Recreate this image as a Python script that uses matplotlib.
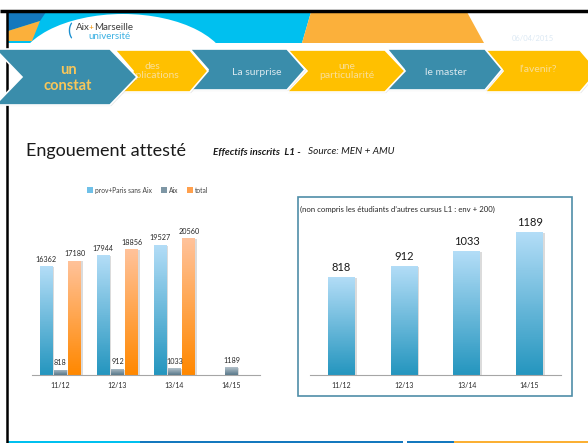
import numpy as np
import matplotlib
matplotlib.use("Agg")
import matplotlib.pyplot as plt
from matplotlib.patches import Polygon, Rectangle, Ellipse, Patch
from matplotlib.colors import LinearSegmentedColormap
import matplotlib.patheffects as pe

plt.rcParams['font.family'] = ['Lato', 'DejaVu Sans']

# Données
categories = ['11/12', '12/13', '13/14', '14/15']
prov_paris = [16362, 17944, 19527]
aix = [818, 912, 1033, 1189]
total = [17180, 18856, 20560]
legend_labels = ['prov+Paris sans Aix', 'Aix', 'total']

steps = ['un\nconstat', 'des\nexplications', 'La surprise', 'une\nparticularité', 'le master', "l’avenir?"]

W, H = 588, 443
fig = plt.figure(figsize=(W / 100, H / 100), dpi=100)

# fond de la diapo (coordonnées en pixels)
bg = fig.add_axes([0, 0, 1, 1])
bg.set_xlim(0, W)
bg.set_ylim(H, 0)
bg.axis('off')

TEAL = '#3a8dab'
YELLOW = '#ffc000'

# bandeau du haut
bg.add_patch(Polygon([(8, 12), (311, 12), (302, 43), (8, 43)], color='#00c0ef', lw=0))
bg.add_patch(Polygon([(8, 12), (46, 12), (40, 21), (8, 31)], color='#1478be', lw=0))
bg.add_patch(Polygon([(8, 31), (40, 21), (32, 41), (8, 41)], color='#fbb03b', lw=0))
dome = Ellipse((123, 70), 212, 112, color='white', lw=0)
bg.add_patch(dome)
clip = Rectangle((8, 12), 580, 31, transform=bg.transData)
dome.set_clip_path(clip)
bg.add_patch(Polygon([(311, 12), (467, 12), (484, 43), (302, 43)], color='#fbb03b', lw=0))

# bordure noire
bg.plot([0, W], [10.5, 10.5], color='black', lw=2.5, solid_capstyle='butt')
bg.plot([7, 7], [10, H], color='black', lw=1.8, solid_capstyle='butt')

# logo
bg.text(67, 31, '(', color='#1a8fd0', fontsize=13, va='center', ha='left')
bg.text(76, 27, 'Aix', color='#3c3c3c', fontsize=7, va='center')
bg.text(88.5, 27, '+', color='#f39200', fontsize=6, va='center')
bg.text(94, 27, 'Marseille', color='#3c3c3c', fontsize=7, va='center')
bg.text(88, 36, 'université', color='#3ab0e2', fontsize=7, va='center')
bg.text(533, 38, '06/04/2015', color='#dce9f4', fontsize=5.5, ha='center', va='center')

# chevrons
chevrons = [
    (-5, 110, 137, 49, 105, TEAL),
    (115, 190, 208, 50, 92, YELLOW),
    (190, 287, 305, 49, 90, TEAL),
    (287, 385, 405, 50, 92, YELLOW),
    (387, 485, 502, 49, 90, TEAL),
    (485, 580, 598, 50, 92, YELLOW),
]
text_pos = [(68, 78), (152, 71), (257, 72), (347, 71), (446, 72), (538, 69)]
text_col = ['#f7c65a', '#f9de98', '#dbe9ef', '#f9de98', '#dbe9ef', '#f9de98']
text_size = [10.5, 7.5, 7.5, 7.5, 7.5, 7.5]

for i in range(len(chevrons)):
    x0, xr, xt, top, bot, col = chevrons[i]
    mid = (top + bot) / 2
    depth = xt - xr
    pts = [(x0, top), (xr, top), (xt, mid), (xr, bot), (x0, bot), (x0 + depth, mid)]
    z = 2 * (len(chevrons) - i)
    poly = Polygon(pts, closed=True, facecolor=col, edgecolor='white', lw=1.2, zorder=z,
                   path_effects=[pe.SimplePatchShadow(offset=(0.8, -0.8), shadow_rgbFace='#808080', alpha=0.2), pe.Normal()])
    bg.add_patch(poly)
    tx, ty = text_pos[i]
    bg.text(tx, ty, steps[i], color=text_col[i], fontsize=text_size[i],
            fontweight='bold' if i == 0 else 'normal', zorder=z + 1,
            ha='center', va='center', linespacing=1.25 if i == 0 else 1.0)

# bande du bas
bg.add_patch(Rectangle((8, 440.5), 132, 3, color='#00c0ef', lw=0))
bg.add_patch(Rectangle((140, 440.5), 263, 3, color='#1478be', lw=0))
bg.add_patch(Rectangle((407, 440.5), 47, 3, color='#1478be', lw=0))
bg.add_patch(Rectangle((454, 440.5), 134, 3, color='#fbb034', lw=0))

# titres
bg.text(26, 151, 'Engouement attesté', fontsize=13, color='#1a1a1a', va='center')
bg.text(213, 152, 'Effectifs inscrits  L1 -', fontsize=7.2, fontweight='bold', fontstyle='italic',
        color='#1a1a1a', va='center')
bg.text(308, 152, 'Source: MEN + AMU', fontsize=7.2, fontstyle='italic', color='#1a1a1a', va='center')

# cadre du graphique de droite
bg.add_patch(Rectangle((298, 197), 274, 199, fill=False, edgecolor='#4f8ea8', lw=1.2))
bg.text(300, 209, '(non compris les étudiants d’autres cursus L1 : env + 200)',
        fontsize=5.6, color='#262626', va='center')


def px_axes(x0, y0, x1, y1):
    a = fig.add_axes([x0 / W, 1 - y1 / H, (x1 - x0) / W, (y1 - y0) / H])
    a.set_facecolor('none')
    for s in ['top', 'right', 'left']:
        a.spines[s].set_visible(False)
    a.spines['bottom'].set_color('#a6a6a6')
    a.spines['bottom'].set_linewidth(0.8)
    a.set_yticks([])
    a.tick_params(axis='x', length=0, pad=5, labelsize=5, labelcolor='#262626')
    return a


def gradient(ax, bars, top_col, bot_col):
    cmap = LinearSegmentedColormap.from_list('g', [bot_col, top_col])
    grad = np.linspace(0, 1, 64).reshape(-1, 1)
    for b in bars:
        x, y = b.get_xy()
        w, h = b.get_width(), b.get_height()
        b.set_facecolor('none')
        b.set_path_effects([pe.SimplePatchShadow(offset=(1.2, -0.6), shadow_rgbFace='#9a9a9a', alpha=0.35)])
        im = ax.imshow(grad, extent=[x, x + w, y, y + h], origin='lower', aspect='auto',
                       cmap=cmap, zorder=2)
        im.set_clip_path(b)


BLUE_TOP, BLUE_BOT = '#b3ddf7', '#2596bf'
GREY_TOP, GREY_BOT = '#b4c2cb', '#58788a'
ORANGE_TOP, ORANGE_BOT = '#ffc29a', '#ff8800'

# graphique de gauche
ax1 = px_axes(32, 200, 260, 375)
x = np.arange(len(categories))
w = 0.22
b1 = ax1.bar(x[:3] - 0.25, prov_paris, w, zorder=1)
b2 = ax1.bar(x + 0.0, aix, w, zorder=1)
b3 = ax1.bar(x[:3] + 0.25, total, w, zorder=1)
gradient(ax1, b1, BLUE_TOP, BLUE_BOT)
gradient(ax1, b2, GREY_TOP, GREY_BOT)
gradient(ax1, b3, ORANGE_TOP, ORANGE_BOT)
for b in (b1, b2, b3):
    ax1.bar_label(b, padding=2.5, fontsize=5.2, color='#262626')
ax1.set_xticks(x)
ax1.set_xticklabels(categories)
ax1.set_xlim(-0.5, 3.5)
ax1.set_ylim(0, 26270)

handles = [Patch(facecolor=c) for c in ['#6fc0e8', '#7e97a5', '#ffa04d']]
fig.legend(handles, legend_labels, loc='center left', bbox_to_anchor=(84 / W, 1 - 190 / H),
           ncol=3, fontsize=4.8, frameon=False, handlelength=0.9, handleheight=0.9,
           handletextpad=0.3, columnspacing=1.3, labelcolor='#404040', borderpad=0)

# graphique de droite
ax2 = px_axes(310, 215, 561, 375)
b4 = ax2.bar(x, aix, 0.43, zorder=1)
gradient(ax2, b4, BLUE_TOP, BLUE_BOT)
ax2.bar_label(b4, padding=3, fontsize=8, color='#1a1a1a')
ax2.set_xticks(x)
ax2.set_xticklabels(categories)
ax2.set_xlim(-0.5, 3.5)
ax2.set_ylim(0, 1335)

fig.savefig('out.png', dpi=100)
